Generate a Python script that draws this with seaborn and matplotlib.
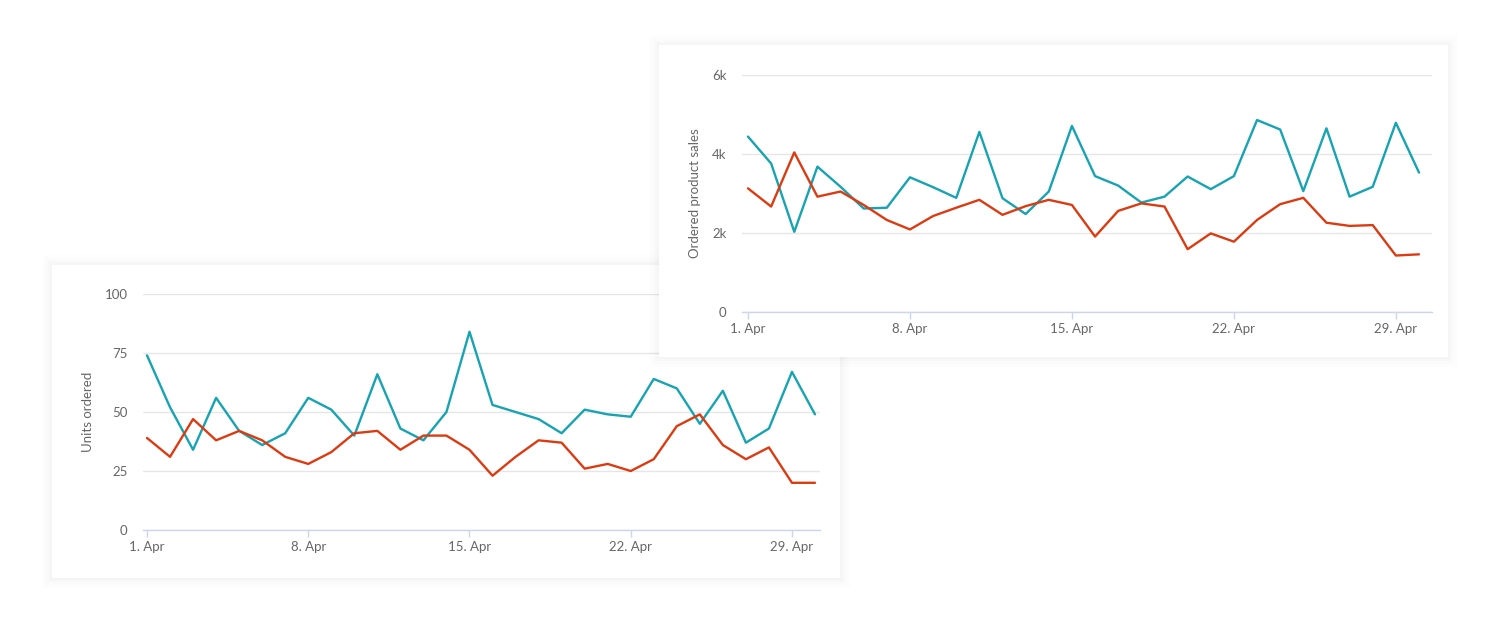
import numpy as np
import pandas as pd
import seaborn as sns
import matplotlib.pyplot as plt
from matplotlib.patches import Rectangle

days = list(range(1, 31))

units_teal = [74, 52, 34, 56, 42, 36, 41, 56, 51, 40, 66, 43, 38, 50, 84,
              53, 50, 47, 41, 51, 49, 48, 64, 60, 45, 59, 37, 43, 67, 49]
units_red = [39, 31, 47, 38, 42, 38, 31, 28, 33, 41, 42, 34, 40, 40, 34,
             23, 31, 38, 37, 26, 28, 25, 30, 44, 49, 36, 30, 35, 20, 20]

sales_teal = [4.44, 3.76, 2.03, 3.68, 3.17, 2.62, 2.64, 3.41, 3.16, 2.89, 4.56, 2.88, 2.48, 3.05, 4.71,
              3.44, 3.20, 2.77, 2.92, 3.43, 3.11, 3.44, 4.86, 4.62, 3.06, 4.65, 2.92, 3.17, 4.79, 3.53]
sales_red = [3.13, 2.67, 4.04, 2.92, 3.05, 2.71, 2.33, 2.09, 2.43, 2.64, 2.84, 2.46, 2.68, 2.84, 2.71,
             1.91, 2.56, 2.75, 2.67, 1.59, 1.99, 1.78, 2.33, 2.73, 2.89, 2.26, 2.18, 2.20, 1.43, 1.46]
sales_teal = [v * 1000 for v in sales_teal]
sales_red = [v * 1000 for v in sales_red]

x_ticks = [1, 8, 15, 22, 29]
x_labels = ['1. Apr', '8. Apr', '15. Apr', '22. Apr', '29. Apr']
units_ticks = [0, 25, 50, 75, 100]
sales_ticks = [0, 2000, 4000, 6000]
sales_labels = ['0', '2k', '4k', '6k']

TEAL = '#17a3b1'
RED = '#dc3b12'
TXT = '#666666'

sns.set_theme(style='white')
plt.rcParams['font.family'] = ['Lato', 'DejaVu Sans']

fig = plt.figure(figsize=(15, 6.21), dpi=100)
fig.patch.set_facecolor('white')
W, H = 1500, 621


def card(x0, y0, x1, y1, z):
    # very soft shadow then white card, pixel coords from top-left
    for k, a in [(10, 0.006), (7, 0.008), (4, 0.010), (2, 0.012)]:
        fig.add_artist(Rectangle(((x0 - k) / W, (H - y1 - k) / H), (x1 - x0 + 2 * k) / W,
                                 (y1 - y0 + 2 * k) / H, transform=fig.transFigure,
                                 facecolor='black', alpha=a, edgecolor='none', zorder=z))
    fig.add_artist(Rectangle((x0 / W, (H - y1) / H), (x1 - x0) / W, (y1 - y0) / H,
                             transform=fig.transFigure, facecolor='white',
                             edgecolor='none', zorder=z + 0.01))


def style(ax, yticks, ylabels, ylabel, xlo, xhi, ytop):
    ax.set_facecolor('none')
    ax.set_xlim(xlo, xhi)
    ax.set_ylim(0, ytop)
    ax.set_xticks(x_ticks)
    ax.set_xticklabels(x_labels)
    ax.set_yticks(yticks)
    ax.set_yticklabels(ylabels)
    ax.set_xlabel('')
    ax.set_ylabel(ylabel, color=TXT, fontsize=9.5, labelpad=8)
    ax.grid(axis='y', color='#e6e6e6', linewidth=1)
    ax.grid(axis='x', visible=False)
    for s in ['top', 'right', 'left']:
        ax.spines[s].set_visible(False)
    ax.spines['bottom'].set_color('#ccd6eb')
    ax.spines['bottom'].set_linewidth(1)
    ax.tick_params(axis='x', colors=TXT, labelsize=9.5, length=5, width=1,
                   color='#ccd6eb', direction='out', pad=3, bottom=True)
    ax.tick_params(axis='y', colors=TXT, labelsize=9.5, length=0, pad=11)
    if ax.get_legend():
        ax.get_legend().remove()


# bottom card
card(52, 265, 840, 578, 0.5)
ax1 = fig.add_axes([143 / W, (H - 530) / H, (820 - 143) / W, (530 - 294) / H])
ax1.set_zorder(1)
df1 = pd.DataFrame({'day': days + days,
                    'value': units_teal + units_red,
                    'series': ['a'] * 30 + ['b'] * 30})
sns.lineplot(data=df1, x='day', y='value', hue='series', palette=[TEAL, RED],
             linewidth=1.7, ax=ax1)
style(ax1, units_ticks, [str(t) for t in units_ticks], 'Units ordered',
      1 - 4 / 23, 30 + 5 / 23, 100)

# top card
card(659, 45, 1448, 357, 2)
ax2 = fig.add_axes([742 / W, (H - 312) / H, (1432 - 742) / W, (312 - 75) / H])
ax2.set_zorder(3)
df2 = pd.DataFrame({'day': days + days,
                    'value': sales_teal + sales_red,
                    'series': ['a'] * 30 + ['b'] * 30})
sns.lineplot(data=df2, x='day', y='value', hue='series', palette=[TEAL, RED],
             linewidth=1.7, ax=ax2)
style(ax2, sales_ticks, sales_labels, 'Ordered product sales',
      1 - 6 / 23.14, 30 + 13 / 23.14, 6000)

fig.savefig('out.png', dpi=100, facecolor='white')
